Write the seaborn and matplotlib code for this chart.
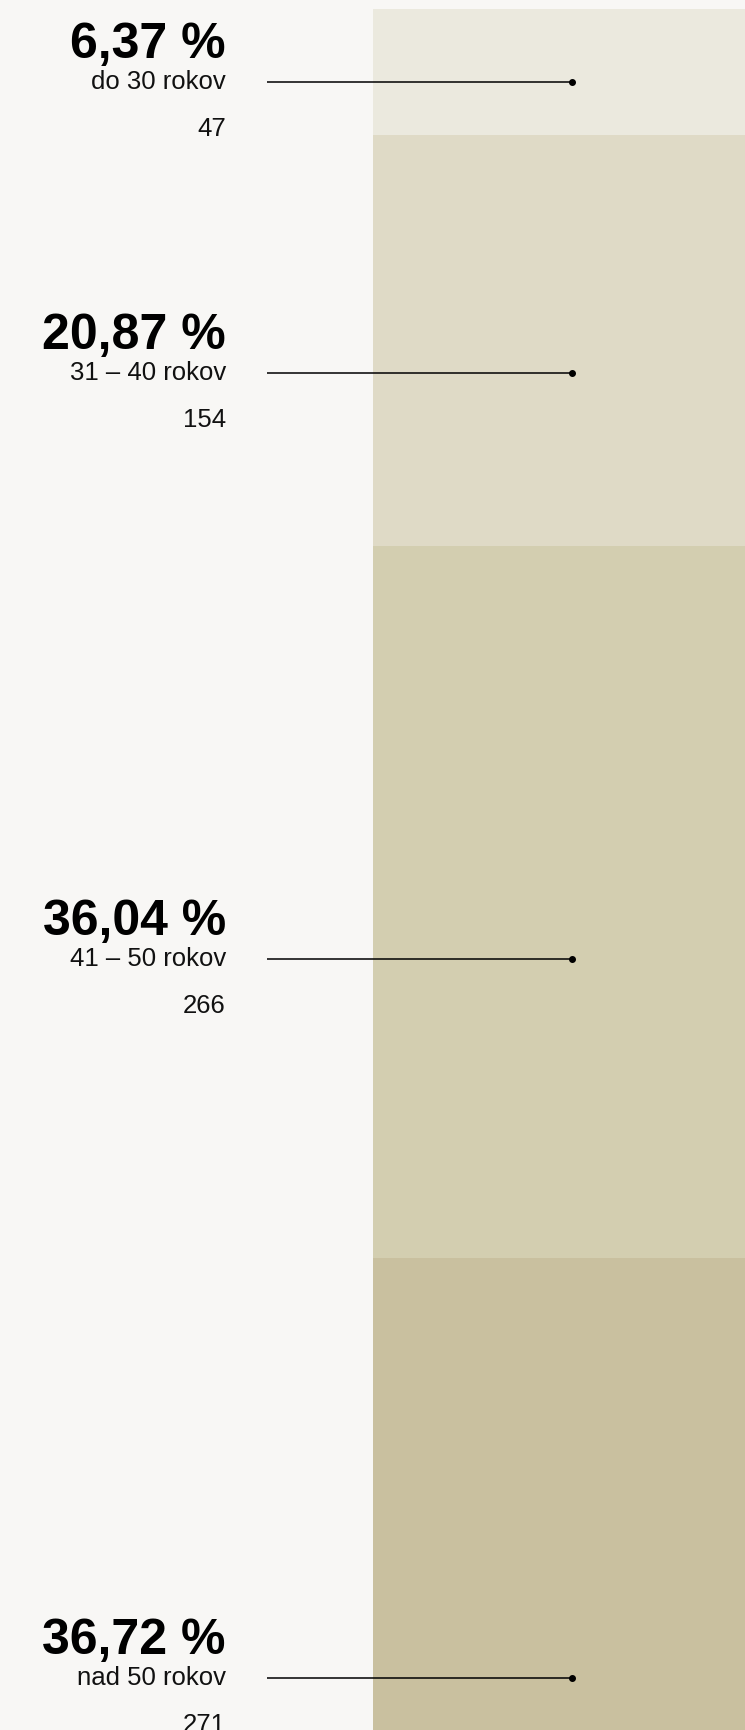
import matplotlib
matplotlib.use("Agg")
import matplotlib.pyplot as plt
import seaborn as sns
import numpy as np

# Age groups of respondents
age_groups = ["do 30 rokov", "31 – 40 rokov", "41 – 50 rokov", "nad 50 rokov"]
counts = [47, 154, 266, 271]
shares = ["6,37 %", "20,87 %", "36,04 %", "36,72 %"]
band_colors = ["#ebe9de", "#dfdac6", "#d3ceb0", "#c9c09f"]

sns.set_theme(style="white")
plt.rcParams["font.family"] = ["Liberation Sans", "DejaVu Sans"]

bg = "#f8f7f5"
fig = plt.figure(figsize=(7.45, 17.3), dpi=100, facecolor=bg)
ax = fig.add_axes([0, 0, 1, 1])
ax.set_facecolor(bg)

# pixel-like x axis, counts on y axis (top to bottom)
px_per_count = 2.675
top_pad = 8.8
ax.set_xlim(0, 745)
ax.set_ylim((1730 - top_pad) / px_per_count, -top_pad / px_per_count)
ax.set_axis_off()

bottoms = np.concatenate([[0], np.cumsum(counts)[:-1]])
ax.bar(373, counts, bottom=bottoms, width=372, align="edge",
       color=band_colors, edgecolor="none", linewidth=0)

# label offsets in pixels, converted to count units
def off(px):
    return px / px_per_count

for grp, n, share, b in zip(age_groups, counts, shares, bottoms):
    y_line = b + 0.58 * n
    ax.plot([267, 572], [y_line, y_line], color="black", lw=1.1,
            solid_capstyle="butt", zorder=3)
    ax.plot(572, y_line, marker="o", ms=4, color="black", zorder=4)
    ax.text(226, y_line - off(24), share, ha="right", va="baseline",
            fontsize=36, fontweight="bold", color="black")
    ax.text(226, y_line + off(7), grp, ha="right", va="baseline",
            fontsize=18.5, color="#111111")
    ax.text(226, y_line + off(54), str(n), ha="right", va="baseline",
            fontsize=18.5, color="#111111")

fig.savefig("out.png", dpi=100, facecolor=bg)
